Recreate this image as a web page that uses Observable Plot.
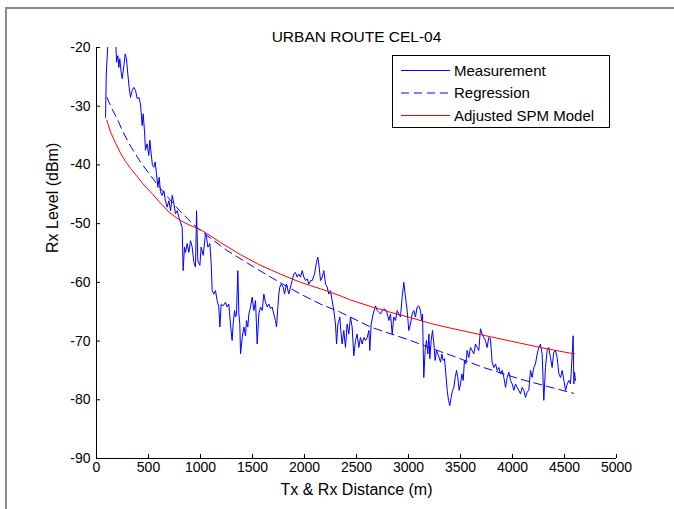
<!DOCTYPE html>
<html>
<head>
<meta charset="utf-8">
<script src="https://cdn.jsdelivr.net/npm/d3@7"></script>
<script src="https://cdn.jsdelivr.net/npm/@observablehq/plot@0.6"></script>
<style>
  html, body { margin: 0; padding: 0; background: #fff; }
  #wrap { position: relative; width: 674px; height: 509px; overflow: hidden; background: #fff; }
  #frame { position: absolute; left: 5px; top: 7px; width: 700px; height: 600px;
           border-top: 2px solid #8a8a8a; border-left: 2px solid #8a8a8a; box-sizing: border-box; }
  #chart { position: absolute; left: 0; top: 0; }
  #legend { position: absolute; left: 392px; top: 55px; }
</style>
</head>
<body>
<div id="wrap">
  <div id="frame"></div>
  <div id="chart"></div>
  <div id="legend"></div>
</div>
<script>
// ---- Data ----
const title = "URBAN ROUTE CEL-04";
const xLabel = "Tx & Rx Distance (m)";
const yLabel = "Rx Level (dBm)";
const xTicks = [0, 500, 1000, 1500, 2000, 2500, 3000, 3500, 4000, 4500, 5000];
const yTicks = [-90, -80, -70, -60, -50, -40, -30, -20];
const seriesNames = ["Measurement", "Regression", "Adjusted SPM Model"];

// Measurement: [distance (m), Rx level (dBm)]
const measurement = [
[87,-31.9],[94,-24.5],[109,-19.5],[135,-16.5],[165,-16],[185,-19],[193,-22.5],[205,-21.4],[215,-23.4],[224,-21.9],
[237,-24.2],[247,-25.3],[263,-23.1],[276,-21.1],[288,-21.9],[301,-24.5],[314,-26.8],[327,-28.5],[343,-27.3],[359,-26.8],
[375,-27.3],[391,-28.7],[407,-28.5],[423,-29.6],[429,-31.0],[439,-33.3],[449,-31.3],[462,-34.4],[471,-37.5],[487,-36.4],
[503,-38.4],[513,-35.8],[526,-38.1],[538,-40.1],[551,-40.4],[564,-39.5],[577,-41.5],[590,-43.8],[603,-42.1],[615,-44.6],
[631,-45.2],[647,-44.4],[663,-46.1],[679,-47.2],[696,-46.1],[712,-47.8],[728,-45.2],[744,-46.6],[760,-48.3],[776,-47.8],
[792,-48.9],[808,-49.8],[824,-50.6],[833,-58.0],[846,-54.0],[856,-54.9],[872,-53.4],[888,-54.9],[904,-52.9],[920,-54.0],
[936,-56.6],[952,-57.4],[962,-47.8],[974,-56.3],[994,-57.1],[1006,-54.0],[1026,-55.4],[1048,-51.7],[1058,-52.3],[1071,-54.0],
[1090,-53.4],[1103,-56.8],[1112,-61.4],[1128,-62.0],[1144,-61.4],[1160,-63.1],[1176,-64.2],[1186,-67.6],[1199,-63.7],[1218,-64.0],
[1240,-63.4],[1256,-64.2],[1272,-63.7],[1288,-67.1],[1304,-69.9],[1314,-67.1],[1327,-64.8],[1337,-65.9],[1346,-65.4],[1359,-58.0],
[1369,-65.4],[1378,-67.1],[1385,-72.2],[1401,-69.4],[1417,-67.6],[1433,-69.1],[1442,-66.5],[1455,-67.6],[1465,-65.4],[1481,-64.2],
[1497,-62.5],[1513,-64.8],[1529,-63.1],[1545,-70.5],[1561,-65.4],[1577,-64.2],[1593,-64.8],[1609,-62.0],[1625,-63.4],[1641,-64.2],
[1657,-63.7],[1673,-64.5],[1689,-64.2],[1705,-65.4],[1721,-66.5],[1731,-67.6],[1744,-64.2],[1753,-62.0],[1763,-60.8],[1776,-60.3],
[1795,-60.8],[1808,-62.0],[1827,-60.3],[1849,-62.0],[1865,-60.8],[1881,-59.7],[1897,-58.6],[1913,-58.3],[1929,-59.1],[1945,-58.6],
[1962,-59.1],[1978,-58.0],[1994,-59.1],[2010,-59.7],[2026,-59.4],[2042,-60.3],[2058,-59.7],[2074,-59.7],[2096,-58.6],[2115,-56.6],
[2128,-55.7],[2141,-57.4],[2154,-59.7],[2170,-59.1],[2186,-58.0],[2202,-60.3],[2218,-60.8],[2234,-62.0],[2250,-61.4],[2266,-63.1],
[2282,-64.8],[2298,-67.1],[2308,-70.5],[2321,-67.1],[2340,-65.9],[2346,-67.6],[2362,-70.5],[2378,-68.2],[2394,-71.1],[2410,-67.1],
[2426,-68.8],[2442,-65.9],[2458,-67.6],[2474,-72.5],[2490,-69.9],[2506,-68.8],[2522,-71.1],[2538,-69.4],[2554,-70.5],[2571,-69.4],
[2587,-69.9],[2603,-69.4],[2619,-68.2],[2628,-71.6],[2641,-67.1],[2660,-65.4],[2683,-64.0],[2699,-64.8],[2715,-65.1],[2731,-65.4],
[2747,-64.8],[2763,-64.5],[2788,-64.8],[2811,-66.5],[2827,-65.4],[2843,-68.8],[2859,-65.9],[2875,-66.5],[2891,-64.8],[2907,-65.4],
[2923,-65.9],[2939,-62.5],[2955,-60.0],[2971,-62.5],[2987,-64.8],[3003,-68.2],[3019,-67.1],[3035,-65.4],[3051,-64.8],[3067,-65.9],
[3083,-64.2],[3099,-64.0],[3115,-64.8],[3125,-66.5],[3135,-65.4],[3147,-76.2],[3160,-71.6],[3173,-69.9],[3186,-72.2],[3196,-68.8],
[3205,-73.0],[3218,-69.9],[3231,-68.2],[3244,-70.5],[3256,-73.3],[3269,-71.6],[3282,-72.2],[3295,-72.8],[3308,-73.6],[3321,-72.2],
[3333,-73.3],[3346,-73.0],[3359,-75.6],[3372,-78.4],[3385,-80.1],[3397,-81.0],[3410,-79.6],[3423,-78.4],[3436,-77.9],[3449,-76.2],
[3462,-75.0],[3474,-76.2],[3487,-78.4],[3500,-77.3],[3513,-75.6],[3526,-76.7],[3538,-73.3],[3551,-73.9],[3564,-71.6],[3580,-72.8],
[3596,-71.1],[3612,-71.6],[3628,-72.2],[3644,-70.5],[3660,-71.1],[3676,-71.6],[3692,-67.9],[3708,-68.8],[3724,-69.4],[3740,-69.9],
[3756,-71.1],[3772,-69.4],[3788,-69.6],[3804,-73.6],[3821,-74.5],[3837,-73.9],[3853,-75.0],[3869,-74.5],[3885,-75.6],[3901,-75.0],
[3917,-76.2],[3933,-77.9],[3949,-76.2],[3965,-75.3],[3981,-76.7],[3997,-77.3],[4013,-78.4],[4029,-77.3],[4045,-77.9],[4061,-78.4],
[4077,-79.0],[4093,-77.9],[4109,-78.4],[4125,-79.6],[4141,-78.7],[4157,-78.4],[4173,-75.0],[4189,-76.2],[4205,-74.5],[4221,-73.9],
[4237,-72.2],[4253,-71.1],[4269,-70.5],[4285,-72.2],[4301,-80.1],[4317,-74.5],[4333,-71.6],[4349,-71.1],[4365,-72.8],[4381,-74.5],
[4397,-71.9],[4413,-71.6],[4429,-72.8],[4446,-75.6],[4462,-76.2],[4478,-75.0],[4494,-76.7],[4510,-78.4],[4526,-77.3],[4542,-76.7],
[4558,-77.3],[4574,-72.2],[4583,-69.1],[4590,-77.3],[4596,-75.3],[4606,-76.7]
];

// Regression curve: [distance, level]
const regression = [
[100,-28.5],[150,-30.5],[200,-32.2],[250,-34.2],[327,-36.8],[423,-39.5],[519,-41.8],[615,-44.0],[700,-45.8],[800,-47.8],
[900,-49.6],[1000,-51.2],[1257,-54.6],[1449,-56.7],[1673,-59.1],[1962,-62.0],[2154,-63.7],[2346,-65.1],[2635,-67.6],[3019,-69.9],
[3308,-71.8],[3404,-72.4],[3721,-74.5],[4077,-76.5],[4394,-78.0],[4587,-78.9]
];

// Adjusted SPM model: [distance, level]
const spm = [
[100,-32.4],[135,-34.4],[183,-36.3],[231,-38.0],[279,-39.4],[327,-40.6],[391,-42.0],[455,-43.4],[519,-44.6],[600,-46.2],
[700,-48.1],[808,-49.5],[900,-50.3],[1000,-51.0],[1192,-53.2],[1385,-55.3],[1577,-57.1],[1769,-58.6],[1962,-60.0],[2154,-61.1],
[2346,-62.3],[2442,-63.0],[2635,-64.1],[2827,-65.1],[3019,-66.0],[3212,-67.0],[3404,-67.8],[3692,-68.9],[3981,-70.0],[4269,-71.1],
[4596,-72.2]
];

const styles = [
  {stroke: "#0000ff", dash: null},
  {stroke: "#0000ff", dash: "8,5"},
  {stroke: "#ff0000", dash: null}
];

// ---- Chart ----
const W = 674, H = 509;
const mL = 96, mR = 58, mT = 47, mB = 51;
const frameW = W - mL - mR, frameH = H - mT - mB;
const font = "'Liberation Sans', Arial, Helvetica, sans-serif";

const chart = Plot.plot({
  width: W,
  height: H,
  marginLeft: mL, marginRight: mR, marginTop: mT, marginBottom: mB,
  style: {fontFamily: font, fontSize: "14px", background: "transparent", color: "#000", overflow: "visible"},
  x: {domain: [0, 5000], label: null},
  y: {domain: [-90, -20], label: null},
  marks: [
    Plot.line(measurement, {x: d => d[0], y: d => d[1], stroke: styles[0].stroke, strokeWidth: 1, clip: true}),
    Plot.line(regression, {x: d => d[0], y: d => d[1], stroke: styles[1].stroke, strokeWidth: 1, strokeDasharray: styles[1].dash}),
    Plot.line(spm, {x: d => d[0], y: d => d[1], stroke: styles[2].stroke, strokeWidth: 1}),
    Plot.ruleX([0], {stroke: "#000"}),
    Plot.ruleY([-90], {stroke: "#000"}),
    Plot.tickX(xTicks, {x: d => d, stroke: "#000", insetTop: frameH - 4}),
    Plot.tickY(yTicks, {y: d => d, stroke: "#000", insetRight: frameW - 4}),
    Plot.axisX({ticks: xTicks, tickSize: 0, tickPadding: 4, tickFormat: d => String(d), label: null, fontSize: 14}),
    Plot.axisY({ticks: yTicks, tickSize: 0, tickPadding: 6, tickFormat: d => String(d), label: null, fontSize: 14}),
    Plot.text([title], {text: d => d, frameAnchor: "top", dy: -17, fontSize: 15.5, fill: "#000"}),
    Plot.text([xLabel], {text: d => d, frameAnchor: "bottom", dy: 36, fontSize: 16, fill: "#000"}),
    Plot.text([yLabel], {text: d => d, frameAnchor: "left", dx: -44, rotate: -90, fontSize: 16, fill: "#000"})
  ]
});
document.getElementById("chart").appendChild(chart);

// ---- Legend ----
const lw = 218, lh = 73;
const ns = "http://www.w3.org/2000/svg";
const lsvg = document.createElementNS(ns, "svg");
lsvg.setAttribute("width", lw);
lsvg.setAttribute("height", lh);
lsvg.style.fontFamily = font;
const rect = document.createElementNS(ns, "rect");
rect.setAttribute("x", 0.5); rect.setAttribute("y", 0.5);
rect.setAttribute("width", lw - 1); rect.setAttribute("height", lh - 1);
rect.setAttribute("fill", "#fff"); rect.setAttribute("stroke", "#000");
lsvg.appendChild(rect);
seriesNames.forEach((name, i) => {
  const yy = 15.5 + i * 22.5;
  const ln = document.createElementNS(ns, "line");
  ln.setAttribute("x1", 9); ln.setAttribute("x2", 58);
  ln.setAttribute("y1", yy); ln.setAttribute("y2", yy);
  ln.setAttribute("stroke", styles[i].stroke);
  if (styles[i].dash) ln.setAttribute("stroke-dasharray", styles[i].dash);
  lsvg.appendChild(ln);
  const tx = document.createElementNS(ns, "text");
  tx.setAttribute("x", 62); tx.setAttribute("y", yy);
  tx.setAttribute("dy", "0.35em");
  tx.setAttribute("font-size", "15");
  tx.textContent = name;
  lsvg.appendChild(tx);
});
document.getElementById("legend").appendChild(lsvg);
</script>
</body>
</html>
